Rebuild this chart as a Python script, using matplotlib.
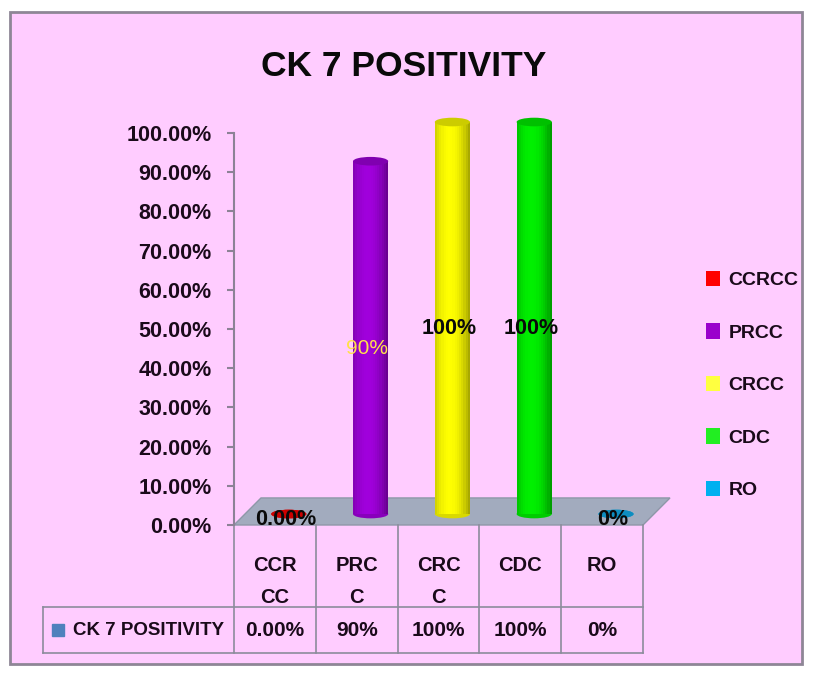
import matplotlib
matplotlib.use("Agg")
import matplotlib.pyplot as plt
from matplotlib.patches import Rectangle, Ellipse, Polygon, Patch
import numpy as np

plt.rcParams['font.family'] = ['Liberation Sans', 'DejaVu Sans']

# data
categories = ["CCRCC", "PRCC", "CRCC", "CDC", "RO"]
cat_labels = ["CCR\nCC", "PRC\nC", "CRC\nC", "CDC", "RO"]
values = [0.0, 0.90, 1.0, 1.0, 0.0]
value_texts = ["0.00%", "90%", "100%", "100%", "0%"]
series_name = "CK 7 POSITIVITY"
yticks = np.arange(0, 1.01, 0.1)
ytick_labels = ["%.2f%%" % (t * 100) for t in yticks]

colors = ["#FF0000", "#A000DC", "#FFFF00", "#00F000", "#10B0F0"]
legend_colors = ["#FF0000", "#9A00CC", "#FFFF40", "#22EE22", "#00B0F0"]

W, H = 814, 677
fig = plt.figure(figsize=(W / 100, H / 100), dpi=100)
fig.patch.set_facecolor("white")
fig.patches.append(Rectangle((10 / W, 1 - 664 / H), 792 / W, 652 / H,
                             transform=fig.transFigure, fc="#FFCCFF",
                             ec="#8E8696", lw=2, zorder=-5))

ax = fig.add_axes([234 / W, 1 - 525 / H, 409 / W, 392 / H])
ax.set_zorder(2)
ax.set_facecolor("none")
ax.set_xlim(-0.5, 4.5)
ax.set_ylim(0, 1)
for s in ["top", "right", "bottom"]:
    ax.spines[s].set_visible(False)
ax.spines["left"].set_color("#8C8296")
ax.spines["left"].set_linewidth(1.5)
ax.set_xticks([])
ax.set_yticks(yticks)
ax.set_yticklabels(ytick_labels, fontsize=15.5, fontweight="bold", color="#1A0A1A")
ax.tick_params(axis="y", direction="out", length=5, width=1.5,
               color="#8C8296", pad=11)

# floor of the 3d plot
ddx, ddy = 0.33, 0.069
floor = Polygon([(-0.5, 0), (4.5, 0), (4.5 + ddx, ddy), (-0.5 + ddx, ddy)],
                closed=True, fc="#A2ABBE", ec="#8E97A8", lw=1, zorder=1,
                clip_on=False)
ax.add_patch(floor)

# cylinders
bw = 0.43
off_x, off_y = 0.17, 0.028
n_strip = 16
edges = np.linspace(-bw / 2, bw / 2, n_strip + 1)
mids = (edges[:-1] + edges[1:]) / 2
for i, (v, c) in enumerate(zip(values, colors)):
    base = np.array(matplotlib.colors.to_rgb(c))
    cx = i + off_x
    for m in mids:
        t = (m + bw / 2) / bw
        k = 1 - 0.38 * (abs(t - 0.42) / 0.58) ** 2
        ax.bar(cx + m, v, width=bw / n_strip * 1.05, bottom=off_y,
               color=np.clip(base * k, 0, 1), lw=0, zorder=3, clip_on=False)
    ax.add_patch(Ellipse((cx, off_y), bw, 0.022, fc=np.clip(base * 0.85, 0, 1),
                         lw=0, zorder=2.9, clip_on=False))
    ax.add_patch(Ellipse((cx, off_y + v), bw, 0.022, fc=np.clip(base * 0.8, 0, 1),
                         lw=0, zorder=3.1, clip_on=False))

# data labels
for i, (v, txt) in enumerate(zip(values, value_texts)):
    y = v / 2 if v > 0 else 0.013
    if txt == "90%":
        ax.text(i + 0.12, y, txt, ha="center", va="center", fontsize=15,
                color="#FFE14A", zorder=5)
    else:
        ax.text(i + 0.13, y, txt, ha="center", va="center", fontsize=15.5,
                fontweight="bold", color="#0A0A0A", zorder=5)

# data table under the plot
tr = ax.get_xaxis_transform()
grid_c = "#8C8C9C"
row_top, row_bot = -0.209, -0.327
x_left = -2.835
for xv in np.arange(-0.5, 4.6, 1.0):
    ax.plot([xv, xv], [0, row_bot], transform=tr, color=grid_c, lw=1.2,
            clip_on=False, zorder=2)
ax.plot([x_left, 4.5], [row_top, row_top], transform=tr, color=grid_c, lw=1.2, clip_on=False)
ax.plot([x_left, 4.5], [row_bot, row_bot], transform=tr, color=grid_c, lw=1.2, clip_on=False)
ax.plot([x_left, x_left], [row_top, row_bot], transform=tr, color=grid_c, lw=1.2, clip_on=False)

for i, lab in enumerate(cat_labels):
    ax.text(i, -0.08, lab, transform=tr, ha="center", va="top", fontsize=14.5,
            fontweight="bold", color="#1A0A1A", linespacing=1.85)
for i, txt in enumerate(value_texts):
    ax.text(i, (row_top + row_bot) / 2, txt, transform=tr, ha="center",
            va="center", fontsize=15, fontweight="bold", color="#1A0A1A")
ax.plot([-2.65], [(row_top + row_bot) / 2], transform=tr, marker="s", ms=8,
        color="#4F81BD", clip_on=False, lw=0)
ax.text(-2.47, (row_top + row_bot) / 2, series_name, transform=tr, ha="left",
        va="center", fontsize=13.5, fontweight="bold", color="#1A0A1A")

# title
fig.text(404 / W, 1 - 67 / H, "CK 7 POSITIVITY", ha="center", va="center",
         fontsize=25.5, fontweight="bold", color="#0A0A0A")

# legend
handles = [Patch(fc=c, ec="none") for c in legend_colors]
fig.legend(handles, categories, loc="center left",
           bbox_to_anchor=(706 / W, 1 - 385 / H), frameon=False,
           handlelength=0.7, handleheight=0.85, handletextpad=0.45,
           labelspacing=1.75, borderpad=0, borderaxespad=0,
           prop={"size": 14, "weight": "bold"}, labelcolor="#1A0A1A")

fig.savefig("out.png", dpi=100, facecolor="white")
